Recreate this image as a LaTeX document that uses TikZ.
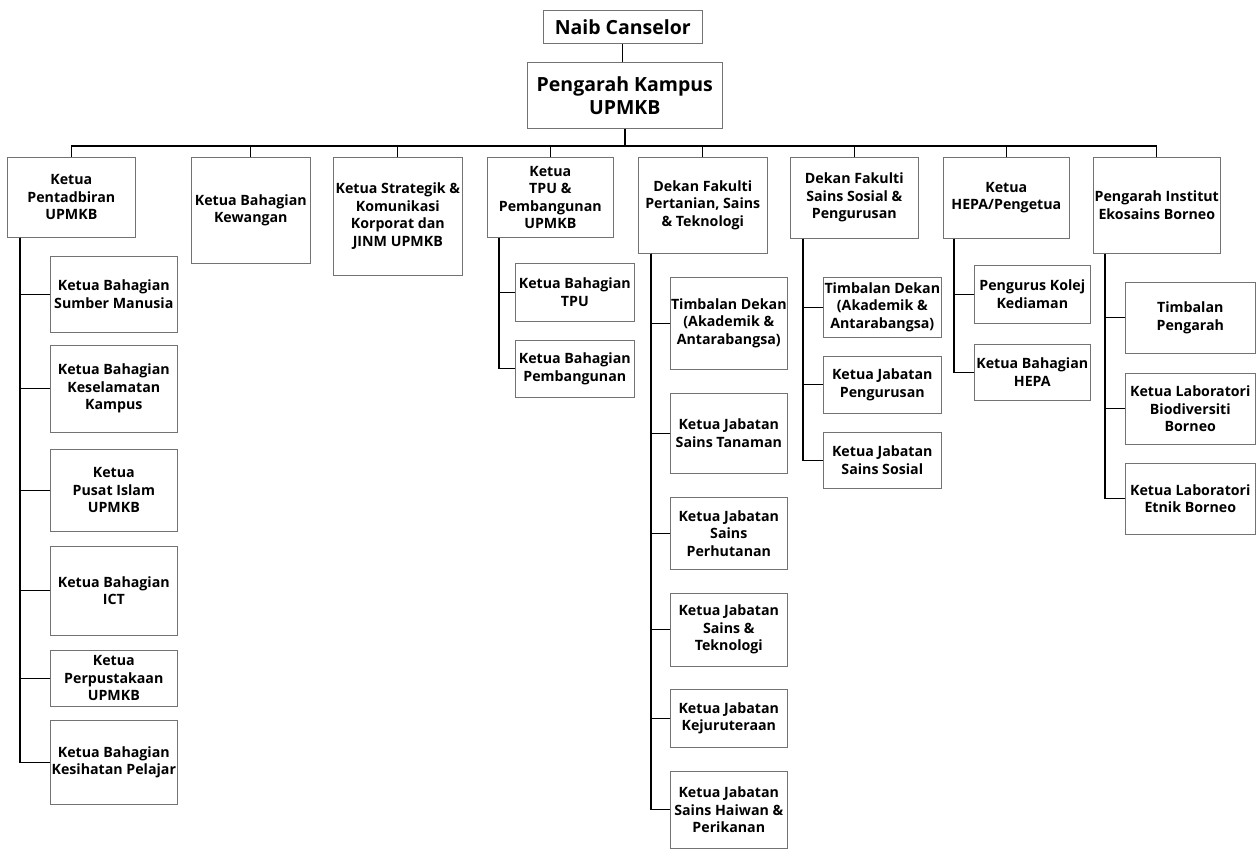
\documentclass[tikz,border=0pt]{standalone}
\usepackage{fontspec}
\setmainfont{Open Sans}
\usetikzlibrary{positioning}

\tikzset{
  box/.style={draw=black!55, line width=0.6pt, fill=white, align=center, inner sep=0.4pt,
    anchor=north west, font=\bfseries\fontsize{14.2}{17.5}\selectfont},
  head/.style={box, font=\bfseries\fontsize{19.5}{23}\selectfont},
  link/.style={line width=1.3pt, black},
}

\begin{document}
\begin{tikzpicture}[x=1pt, y=-1pt]
\useasboundingbox (0,0) rectangle (1256,850);

% top
\node[head, minimum width=159, minimum height=33] (naib) at (543,10) {Naib Canselor};
\node[head, minimum width=195, minimum height=66] (pk) at (527,62) {Pengarah Kampus\\UPMKB};

% first row
\node[box, minimum width=128, minimum height=80]  (pent)  at (7,157)    {Ketua\\Pentadbiran\\UPMKB};
\node[box, minimum width=119, minimum height=106] (kew)   at (191,157)  {Ketua Bahagian\\Kewangan};
\node[box, minimum width=129, minimum height=118] (strat) at (333,157)  {Ketua Strategik \&\\Komunikasi\\Korporat dan\\JINM UPMKB};
\node[box, minimum width=126, minimum height=80]  (tpu)   at (487,157)  {Ketua\\TPU \&\\Pembangunan\\UPMKB};
\node[box, minimum width=129, minimum height=96]  (fpst)  at (638,157)  {Dekan Fakulti\\Pertanian, Sains\\\& Teknologi};
\node[box, minimum width=128, minimum height=81]  (fssp)  at (790,157)  {Dekan Fakulti\\Sains Sosial \&\\Pengurusan};
\node[box, minimum width=126, minimum height=81]  (hepa)  at (943,157)  {Ketua\\HEPA/Pengetua};
\node[box, minimum width=127, minimum height=96]  (iebk)  at (1093,157) {Pengarah Institut\\Ekosains Borneo};

% pentadbiran
\node[box, minimum width=127, minimum height=76] (hsm) at (50,256) {Ketua Bahagian\\Sumber Manusia};
\node[box, minimum width=127, minimum height=87] (hkk) at (50,345) {Ketua Bahagian\\Keselamatan\\Kampus};
\node[box, minimum width=127, minimum height=82] (pip) at (50,449) {Ketua\\Pusat Islam\\UPMKB};
\node[box, minimum width=127, minimum height=89] (ict) at (50,546) {Ketua Bahagian\\ICT};
\node[box, minimum width=127, minimum height=56] (pus) at (50,650) {Ketua\\Perpustakaan\\UPMKB};
\node[box, minimum width=127, minimum height=84] (kes) at (50,720) {Ketua Bahagian\\Kesihatan Pelajar};

% tpu
\node[box, minimum width=119, minimum height=58] (btpu) at (515,263) {Ketua Bahagian\\TPU};
\node[box, minimum width=119, minimum height=57] (bpem) at (515,340) {Ketua Bahagian\\Pembangunan};

% fakulti pertanian
\node[box, minimum width=117, minimum height=92] (tdf)  at (670,277) {Timbalan Dekan\\(Akademik \&\\Antarabangsa)};
\node[box, minimum width=117, minimum height=80] (jst)  at (670,393) {Ketua Jabatan\\Sains Tanaman};
\node[box, minimum width=117, minimum height=72] (jsp)  at (670,497) {Ketua Jabatan\\Sains\\Perhutanan};
\node[box, minimum width=117, minimum height=73] (jstk) at (670,593) {Ketua Jabatan\\Sains \&\\Teknologi};
\node[box, minimum width=117, minimum height=58] (jk)   at (670,689) {Ketua Jabatan\\Kejuruteraan};
\node[box, minimum width=117, minimum height=77] (jsh)  at (670,771) {Ketua Jabatan\\Sains Haiwan \&\\Perikanan};

% fakulti sains sosial
\node[box, minimum width=118, minimum height=60] (tds) at (823,277) {Timbalan Dekan\\(Akademik \&\\Antarabangsa)};
\node[box, minimum width=118, minimum height=57] (jpg) at (823,356) {Ketua Jabatan\\Pengurusan};
\node[box, minimum width=118, minimum height=56] (jss) at (823,432) {Ketua Jabatan\\Sains Sosial};

% hepa
\node[box, minimum width=116, minimum height=58] (pkk)   at (974,265) {Pengurus Kolej\\Kediaman};
\node[box, minimum width=116, minimum height=56] (bhepa) at (974,344) {Ketua Bahagian\\HEPA};

% institut
\node[box, minimum width=130, minimum height=71] (tp)  at (1125,282) {Timbalan\\Pengarah};
\node[box, minimum width=130, minimum height=71] (lbb) at (1125,373) {Ketua Laboratori\\Biodiversiti\\Borneo};
\node[box, minimum width=130, minimum height=71] (leb) at (1125,463) {Ketua Laboratori\\Etnik Borneo};

% lines
\coordinate (bus) at (624,146);
\draw[link] (naib.south) -- (naib.south |- pk.north);
\draw[link, line width=2.6pt] (pk.south) -- (pk.south |- bus);
\draw[link] (pent.north |- bus) -- (iebk.north |- bus);
\foreach \n in {pent,kew,strat,tpu,fpst,fssp,hepa,iebk}
  \draw[link] (\n.north |- bus) -- (\n.north);

\foreach \k in {hsm,hkk,pip,ict,pus,kes}
  \draw[link] ([xshift=13pt]pent.south west) |- (\k.west);
\foreach \k in {btpu,bpem}
  \draw[link] ([xshift=12pt]tpu.south west) |- (\k.west);
\foreach \k in {tdf,jst,jsp,jstk,jk,jsh}
  \draw[link] ([xshift=13pt]fpst.south west) |- (\k.west);
\foreach \k in {tds,jpg,jss}
  \draw[link] ([xshift=13pt]fssp.south west) |- (\k.west);
\foreach \k in {pkk,bhepa}
  \draw[link] ([xshift=11pt]hepa.south west) |- (\k.west);
\foreach \k in {tp,lbb,leb}
  \draw[link] ([xshift=12pt]iebk.south west) |- (\k.west);

\end{tikzpicture}
\end{document}
